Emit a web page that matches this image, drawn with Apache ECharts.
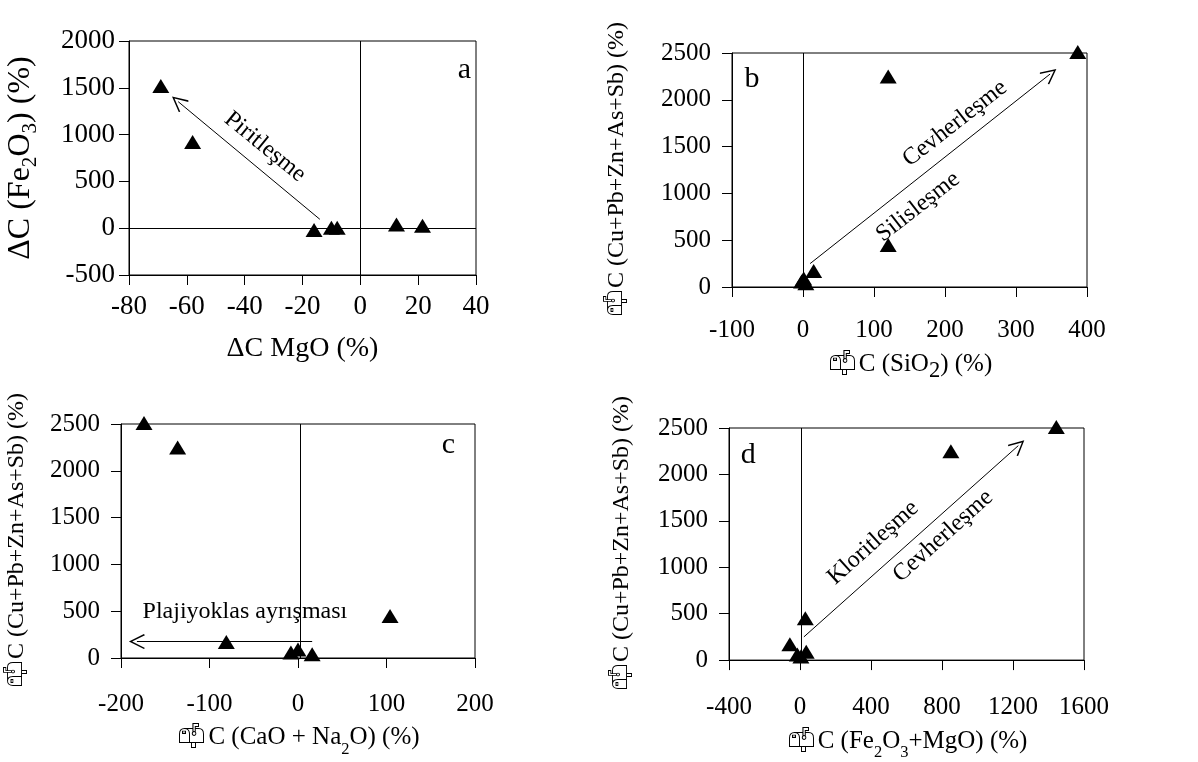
<!DOCTYPE html>
<html>
<head>
<meta charset="utf-8">
<script src="https://cdn.jsdelivr.net/npm/echarts@6/dist/echarts.min.js"></script>
<style>html,body{margin:0;padding:0;background:#fff}#c{width:1198px;height:762px}</style>
</head>
<body>
<div id="c"></div>
<script>
// ---- data ----
const aX = [-69, -58, -16, -10, -8, 12.5, 21.5];
const aY = [1520, 920, -20, 5, 5, 40, 25];
const metalY = [2510, 2250, 450, 170, 90, 60, 40];
const bX = [387, 120, 120, 15, 1, -2, 4];
const cX = [-174, -136, 104, -81, 0, -8, 16];
const dX = [1444, 850, 30, -57, 35, -15, 5];

const aXTicks = {min: -80, max: 40, interval: 20};
const aYTicks = {min: -500, max: 2000, interval: 500};
const bXTicks = {min: -100, max: 400, interval: 100};
const cXTicks = {min: -200, max: 200, interval: 100};
const dXTicks = {min: -400, max: 1600, interval: 400};
const metalTicks = {min: 0, max: 2500, interval: 500};

const MB = '\u{1F4EB}\uFE0E';
const FONT = 'Liberation Serif';
const ARROW = 'path://M0,0 L9,15 L7.6,16 L0,3.2 L-7.6,16 L-9,15 Z';

const chart = echarts.init(document.getElementById('c'), null, {renderer: 'canvas'});

function axis(idx, t, name, gap, lsize, margin, nsize) {
  return {
    gridIndex: idx, type: 'value', min: t.min, max: t.max, interval: t.interval,
    axisLine: {show: true, onZero: false, lineStyle: {color: '#000', width: 1}},
    axisTick: {show: true, inside: false, length: 10, lineStyle: {color: '#000'}},
    splitLine: {show: false},
    axisLabel: {color: '#000', fontFamily: FONT, fontSize: lsize, margin: margin,
      formatter: v => String(v)},
    name: name, nameLocation: 'middle', nameGap: gap,
    nameTextStyle: {color: '#000', fontFamily: FONT, fontSize: nsize, lineHeight: 32,
      rich: {s: {fontFamily: FONT, fontSize: nsize * 0.66, verticalAlign: 'bottom', lineHeight: 40, color: '#000'},
             S: {fontFamily: FONT, fontSize: nsize * 0.9, verticalAlign: 'bottom', lineHeight: 38, color: '#000'}}}
  };
}

const lineStyle = {color: '#000', width: 1, type: 'solid'};
function txt(coord, text, rot, size) {
  return {coord: coord, symbol: 'circle', symbolSize: 1, itemStyle: {color: 'rgba(0,0,0,0)'},
    label: {show: true, position: 'inside', formatter: text, rotate: rot || 0, color: '#000',
      fontFamily: FONT, fontSize: size || 24}};
}
function series(idx, xs, ys, lines, texts) {
  return {
    type: 'scatter', xAxisIndex: idx, yAxisIndex: idx, clip: false,
    data: xs.map((x, i) => [x, ys[i]]),
    symbol: 'triangle', symbolSize: [17, 14], itemStyle: {color: '#000', opacity: 1},
    animation: false, silent: true,
    markLine: {silent: true, animation: false, symbol: ['none', 'none'], lineStyle: lineStyle,
      label: {show: false}, data: lines},
    markPoint: {silent: true, animation: false, data: texts}
  };
}
function seg(p, q, arrow) {
  return [{coord: p, symbol: 'none'}, {coord: q, symbol: arrow ? ARROW : 'none', symbolSize: [15, 16]}];
}

const option = {
  backgroundColor: '#fff',
  animation: false,
  grid: [
    {left: 122, top: 41, width: 354, height: 234, show: true, borderColor: '#000', borderWidth: 1},
    {left: 732, top: 53, width: 355, height: 234, show: true, borderColor: '#000', borderWidth: 1},
    {left: 121, top: 424, width: 354, height: 234, show: true, borderColor: '#000', borderWidth: 1},
    {left: 729, top: 428, width: 355, height: 234, show: true, borderColor: '#000', borderWidth: 1}
  ],
  xAxis: [
    axis(0, aXTicks, 'ΔC MgO (%)', 58, 27, 18, 28),
    axis(1, bXTicks, MB + 'C (SiO{S|2}) (%)', 58, 25, 31, 25),
    axis(2, cXTicks, MB + 'C (CaO + Na{s|2}O) (%)', 58, 25, 34, 25),
    axis(3, dXTicks, MB + 'C (Fe{s|2}O{s|3}+MgO) (%)', 60, 25, 35, 25)
  ],
  yAxis: [
    axis(0, aYTicks, 'ΔC (Fe{s|2}O{s|3}) (%)', 88, 27, 14, 32),
    axis(1, metalTicks, MB + 'C (Cu+Pb+Zn+As+Sb) (%)', 99, 25, 21, 24),
    axis(2, metalTicks, MB + 'C (Cu+Pb+Zn+As+Sb) (%)', 88, 25, 21, 24),
    axis(3, metalTicks, MB + 'C (Cu+Pb+Zn+As+Sb) (%)', 91, 25, 21, 24)
  ],
  series: [
    series(0, aX, aY,
      [{yAxis: 0}, {xAxis: 0}, seg([-14, 95], [-63, 1352], true)],
      [txt([-33, 868], 'Piritleşme', -39, 24), txt([36, 1690], 'a', 0, 30)]),
    series(1, bX, metalY,
      [{xAxis: 0}, seg([10, 250], [348, 2275], true)],
      [txt([214, 1746], 'Cevherleşme', 38, 24), txt([162, 855], 'Silisleşme', 38, 24), txt([-72, 2226], 'b', 0, 30)]),
    series(2, cX, metalY,
      [{xAxis: 3}, seg([16, 175], [-182, 175], true)],
      [txt([-60, 491], 'Plajiyoklas ayrışması', 0, 24), txt([170, 2273], 'c', 0, 30)]),
    series(3, dX, metalY,
      [{xAxis: 5}, seg([22, 250], [1230, 2310], true)],
      [txt([412, 1264], 'Kloritleşme', 42, 24), txt([806, 1335], 'Cevherleşme', 42, 24), txt([-291, 2208], 'd', 0, 30)])
  ]
};
chart.setOption(option);
</script>
</body>
</html>
